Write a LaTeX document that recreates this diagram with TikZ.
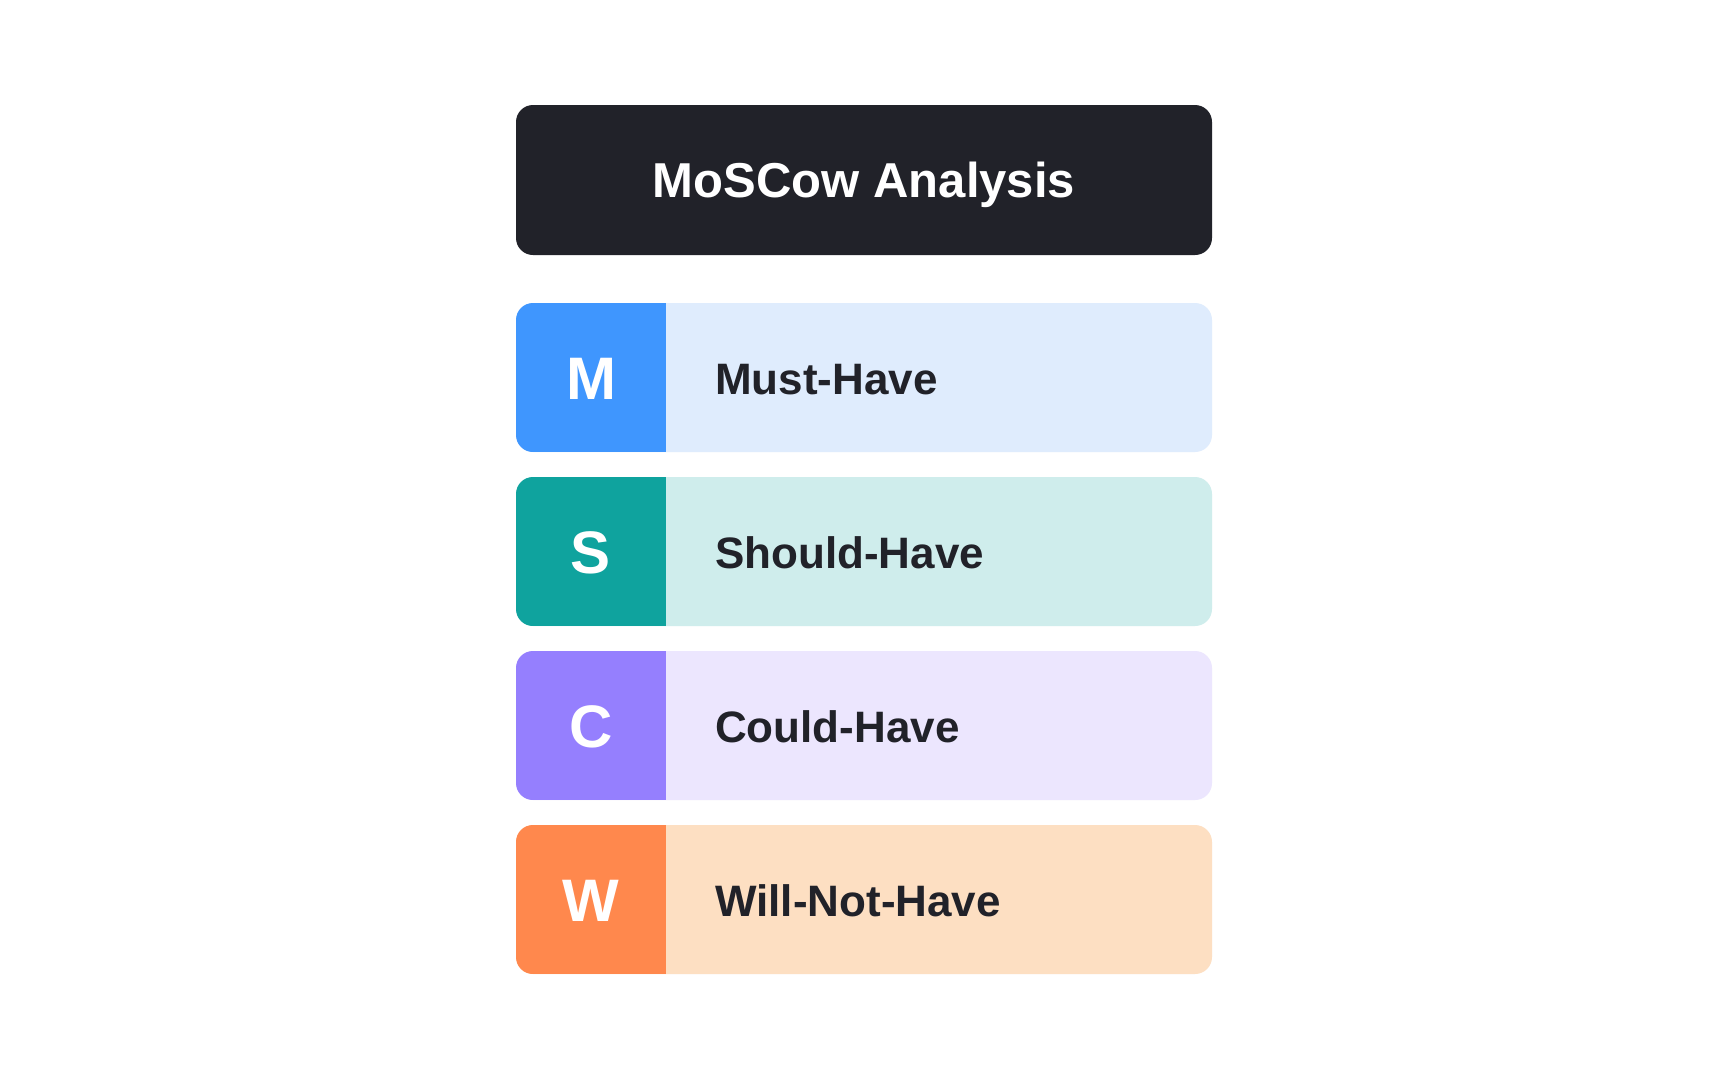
\documentclass[tikz,border=0pt]{standalone}
\usepackage{fontspec}
\setmainfont{Liberation Sans}
\usetikzlibrary{positioning}

\definecolor{inkdark}{HTML}{212229}
\definecolor{mustc}{HTML}{3F96FE}
\definecolor{mustl}{HTML}{DFECFD}
\definecolor{shouldc}{HTML}{0FA39E}
\definecolor{shouldl}{HTML}{CFEDEC}
\definecolor{couldc}{HTML}{957FFE}
\definecolor{couldl}{HTML}{ECE6FE}
\definecolor{wontc}{HTML}{FF884D}
\definecolor{wontl}{HTML}{FDDFC2}

\tikzset{
  bar/.style={rectangle, rounded corners=17pt, minimum width=696pt,
    minimum height=149pt, inner sep=0pt,
    path picture={\fill[#1, sharp corners] (path picture bounding box.south west)
      rectangle ([xshift=150pt]path picture bounding box.north west);}},
  letter/.style={text=white, font=\fontsize{60}{70}\selectfont\bfseries,
    inner sep=0pt, text height=43pt, text depth=0pt},
  label/.style={text=inkdark, font=\fontsize{44}{52}\selectfont\bfseries,
    inner sep=0pt, anchor=west, text height=32pt, text depth=0pt},
}

\begin{document}
\begin{tikzpicture}[x=1pt, y=-1pt]
    \useasboundingbox[fill=white] (0,0) rectangle (1728,1080);

    \node[fill=inkdark, rounded corners=17pt, minimum width=696pt,
      minimum height=150pt, text=white, text height=35pt, text depth=0pt,
      font=\fontsize{49}{58}\selectfont\bfseries]
    (T) at (864,180) {MoSCow Analysis};

    \node[bar=mustc, fill=mustl] (M) at (864,377.5) {};
    \node[letter] (Mk) at (591,377.5) {M};
    \node[label] (Ml) at (715,378) {Must-Have};

    \node[bar=shouldc, fill=shouldl] (S) at (864,551.5) {};
    \node[letter] (Sk) at (591,551.5) {S};
    \node[label] (Sl) at (715,552) {Should-Have};

    \node[bar=couldc, fill=couldl] (C) at (864,725.5) {};
    \node[letter] (Ck) at (591,725.5) {C};
    \node[label] (Cl) at (715,726) {Could-Have};

    \node[bar=wontc, fill=wontl] (W) at (864,899.5) {};
    \node[letter] (Wk) at (591,899.5) {W};
    \node[label] (Wl) at (715,900) {Will-Not-Have};
  \end{tikzpicture}
\end{document}
